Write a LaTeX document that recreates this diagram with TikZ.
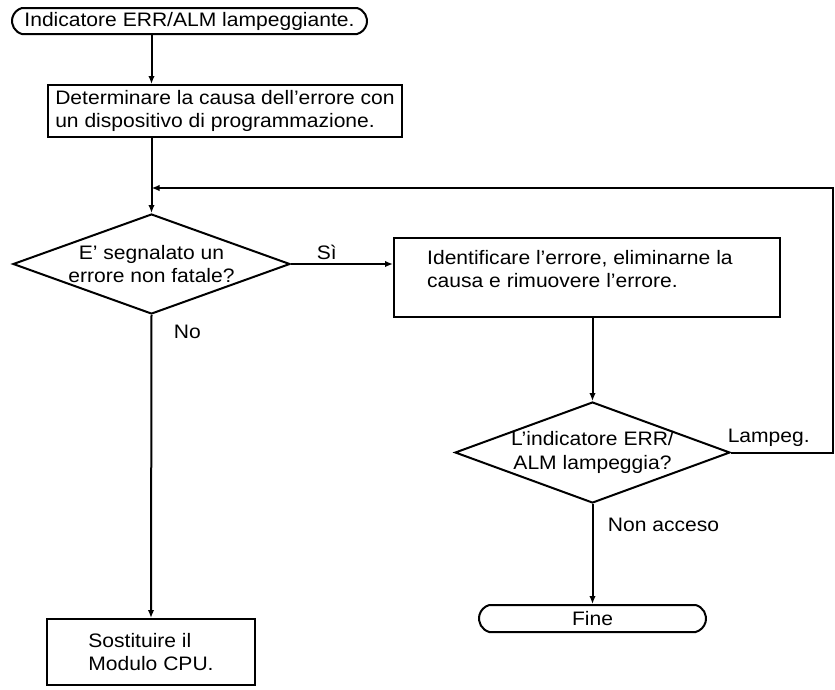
\documentclass[tikz,border=0pt]{standalone}
\usepackage{fontspec}
\setmainfont{Liberation Sans}[FakeStretch=1.08]
\usetikzlibrary{arrows.meta, positioning, shapes.geometric, shapes.misc}

\begin{document}
\begin{tikzpicture}[x=1pt, y=-1pt,
  every node/.style={font=\fontsize{19.5}{23.5}\selectfont},
  terminal/.style={draw, line width=2pt, rounded rectangle, rounded rectangle arc length=150, inner sep=0pt},
  process/.style={draw, line width=2pt, rectangle, inner sep=0pt, align=left},
  decision/.style={draw, line width=2pt, diamond, inner sep=0pt},
  flow/.style={line width=2pt, -{Latex[length=8pt, width=6.5pt]}},
  link/.style={line width=2pt}]
\useasboundingbox (0,0) rectangle (835,689);

\node[terminal, minimum width=355pt, minimum height=26pt] (start) at (189.5,21) {Indicatore ERR/ALM lampeggiante.};
\node[process, minimum width=354pt, minimum height=52pt] (cause) at (225,111) {Determinare la causa dell'errore con\\un dispositivo di programmazione.};
\node[decision, minimum width=277pt, minimum height=100pt,
  label={[align=center, inner sep=0pt]center:E' segnalato un\\errore non fatale?}] (ask) at (151.5,264) {};
\node[process, minimum width=386pt, minimum height=79pt,
  label={[align=left, inner sep=0pt, anchor=north west, xshift=34pt, yshift=-13pt]north west:Identificare l'errore, eliminarne la\\causa e rimuovere l'errore.}] (fix) at (587,277.5) {};
\node[decision, minimum width=275pt, minimum height=101pt,
  label={[align=center, inner sep=0pt]center:L'indicatore ERR/\\ALM lampeggia?}] (blink) at (592.5,452.5) {};
\node[terminal, minimum width=227pt, minimum height=27pt] (stop) at (592.5,618.5) {Fine};
\node[process, minimum width=208pt, minimum height=66pt] (cpu) at (151,652) {Sostituire il\\Modulo CPU.};
\coordinate (loop) at (833,188);

\draw[flow] (start.south -| ask.north) -- (cause.north -| ask.north);
\draw[flow] (cause.south -| ask.north) -- (ask.north);
\draw[flow] (ask.east) -- node[pos=0.35, above] (yes) {Sì} (ask.east -| fix.west);
\draw[flow] (ask.south) -- node[pos=0.056, right=18pt] (no) {No} (cpu.north);
\draw[flow] (fix.south -| blink.north) -- (blink.north);
\draw[flow] (blink.south) -- node[pos=0.206, right=11pt] (off) {Non acceso} (stop.north);
\draw[flow] (blink.east) -- node[pos=0.37, above=2pt] (on) {Lampeg.} (blink.east -| loop) -- (loop) -- (loop -| ask.north);
\end{tikzpicture}
\end{document}
